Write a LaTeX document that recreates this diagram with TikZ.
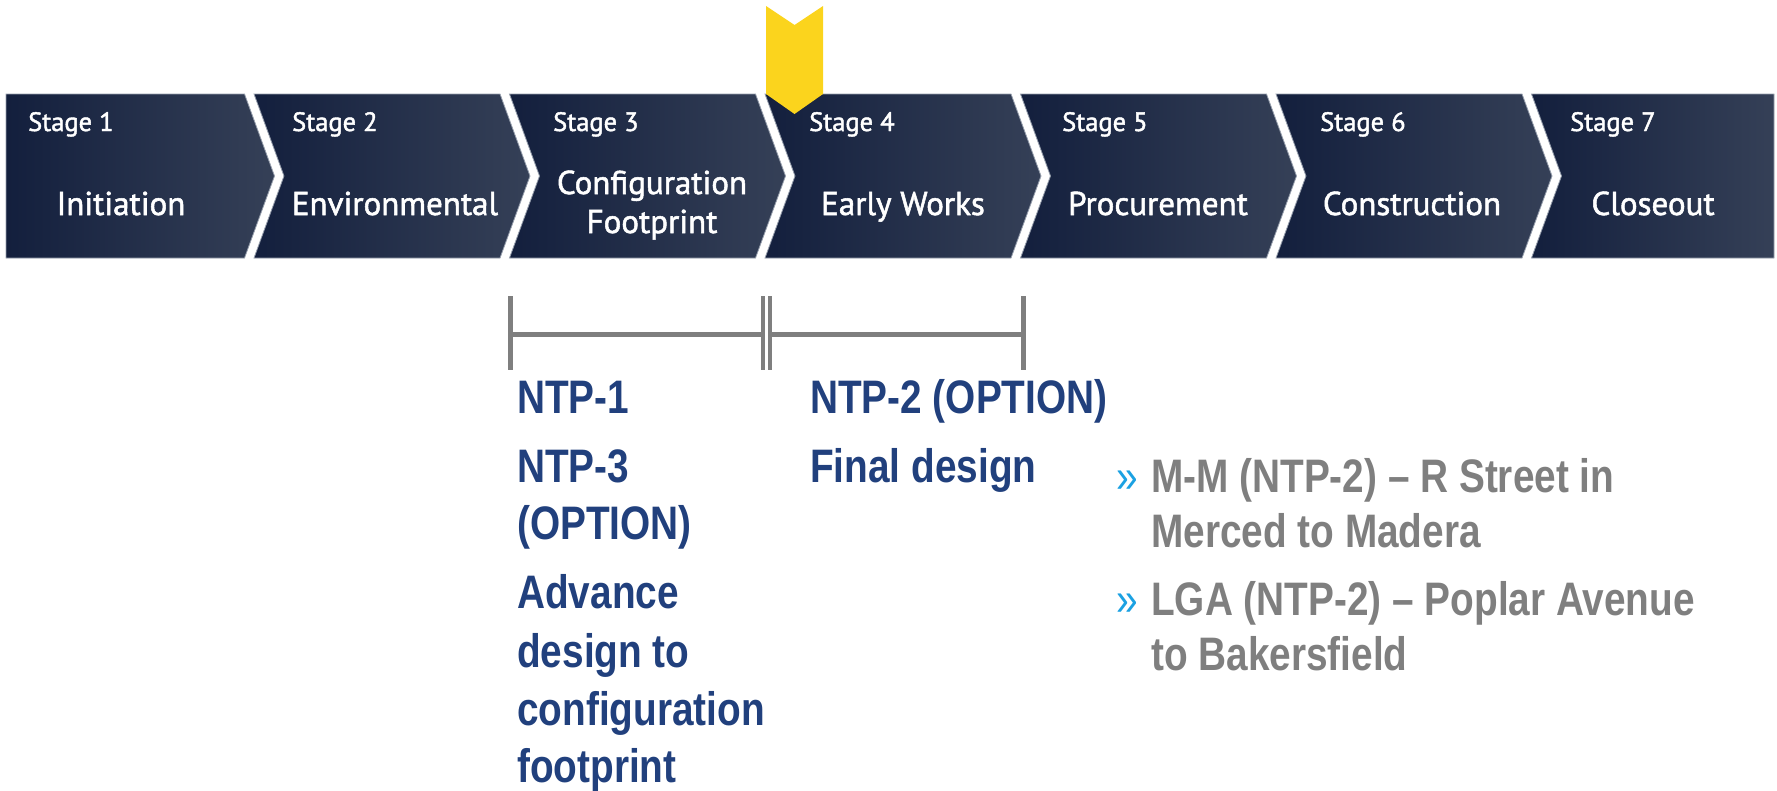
\documentclass[tikz,border=0pt]{standalone}
\usepackage{fontspec}
\newfontfamily\stagefont{PT Sans}[FakeBold=1.6]
\newfontfamily\narrowfont{Liberation Sans}[FakeStretch=0.825]
\definecolor{navyL}{RGB}{19,31,61}
\definecolor{navyR}{RGB}{53,64,87}
\definecolor{edgegray}{RGB}{150,158,172}
\definecolor{markyellow}{RGB}{251,212,29}
\definecolor{ntpblue}{RGB}{33,64,125}
\definecolor{txtgray}{RGB}{127,127,127}
\definecolor{bullcyan}{RGB}{27,161,226}
\begin{document}
\begin{tikzpicture}[x=1pt,y=-1pt,
  chev/.style={left color=navyL,right color=navyR,draw=edgegray,line width=0.8},
  stagelbl/.style={anchor=base west,inner sep=0,text=white,font=\stagefont\fontsize{26.5}{30}\selectfont},
  mainlbl/.style={anchor=base,inner sep=0,text=white,font=\stagefont\fontsize{33}{38}\selectfont},
  bluetxt/.style={anchor=base west,inner sep=0,text=ntpblue,font=\narrowfont\bfseries\fontsize{47}{58}\selectfont},
  graytxt/.style={anchor=base west,inner sep=0,text=txtgray,font=\narrowfont\bfseries\fontsize{47}{58}\selectfont},
  bullet/.style={anchor=base west,inner sep=0,text=bullcyan,font=\narrowfont\fontsize{47}{58}\selectfont},
  bargray/.style={draw=txtgray,line width=5}]
\useasboundingbox (0,0) rectangle (1777,790);
% chevrons
\path[chev] (6,94)--(244.5,94)--(274.5,176)--(244.5,258)--(6,258)--cycle;
\foreach \L/\R in {254/500, 509.5/755.5, 765/1011, 1020.5/1266.5, 1276/1522}{
  \path[chev] (\L,94)--(\R,94)--(\R+30,176)--(\R,258)--(\L,258)--(\L+30,176)--cycle;
}
\path[chev] (1531.5,94)--(1774,94)--(1774,258)--(1531.5,258)--(1561.5,176)--cycle;
% marker
\path[fill=markyellow] (766,6)--(794.5,25)--(823,6)--(823,94)--(794.5,114)--(766,94)--cycle;
% stage labels
\node[stagelbl] (s1) at (28,131) {Stage 1};
\node[stagelbl] (s2) at (292,131) {Stage 2};
\node[stagelbl] (s3) at (553,131) {Stage 3};
\node[stagelbl] (s4) at (809,131) {Stage 4};
\node[stagelbl] (s5) at (1062,131) {Stage 5};
\node[stagelbl] (s6) at (1320,131) {Stage 6};
\node[stagelbl] (s7) at (1570,131) {Stage 7};
\node[mainlbl] (t1) at (121,215) {Initiation};
\node[mainlbl] (t2) at (395,215) {Environmental};
\node[mainlbl] (t3a) at (652,194) {Configuration};
\node[mainlbl] (t3b) at (652,233) {Footprint};
\node[mainlbl] (t4) at (903,215) {Early Works};
\node[mainlbl] (t5) at (1158,215) {Procurement};
\node[mainlbl] (t6) at (1412,215) {Construction};
\node[mainlbl] (t7) at (1653,215) {Closeout};
% bracket
\coordinate (b1t) at (510,296); \coordinate (b1b) at (510,370);
\coordinate (b2t) at (762.5,296); \coordinate (b2b) at (762.5,370);
\coordinate (b3t) at (769.5,296); \coordinate (b3b) at (769.5,370);
\coordinate (b4t) at (1023,296); \coordinate (b4b) at (1023,370);
\draw[bargray] (b1t) -- (b1b);
\draw[bargray,line width=4] (b2t) -- (b2b);
\draw[bargray,line width=4] (b3t) -- (b3b);
\draw[bargray] (b4t) -- (b4b);
\draw[bargray] (510,334) -- (762.5,334);
\draw[bargray] (769.5,334) -- (1023,334);
% blue text left
\node[bluetxt] (n1) at (517,413) {NTP-1};
\node[bluetxt] (n3a) at (517,482) {NTP-3};
\node[bluetxt] (n3b) at (517,539) {(OPTION)};
\node[bluetxt] (adv1) at (517,608) {Advance};
\node[bluetxt] (adv2) at (517,667) {design to};
\node[bluetxt] (adv3) at (517,725) {configuration};
\node[bluetxt] (adv4) at (517,782) {footprint};
% blue text right
\node[bluetxt] (n2) at (810,413) {NTP-2 (OPTION)};
\node[bluetxt] (fd) at (810,482) {Final design};
% gray bullets
\node[bullet] (bu1) at (1116,492) {»};
\node[graytxt] (g1a) at (1151,492) {M-M (NTP-2) – R Street in};
\node[graytxt] (g1b) at (1151,547) {Merced to Madera};
\node[bullet] (bu2) at (1116,615) {»};
\node[graytxt] (g2a) at (1151,615) {LGA (NTP-2) – Poplar Avenue};
\node[graytxt] (g2b) at (1151,670) {to Bakersfield};
\end{tikzpicture}
\end{document}
